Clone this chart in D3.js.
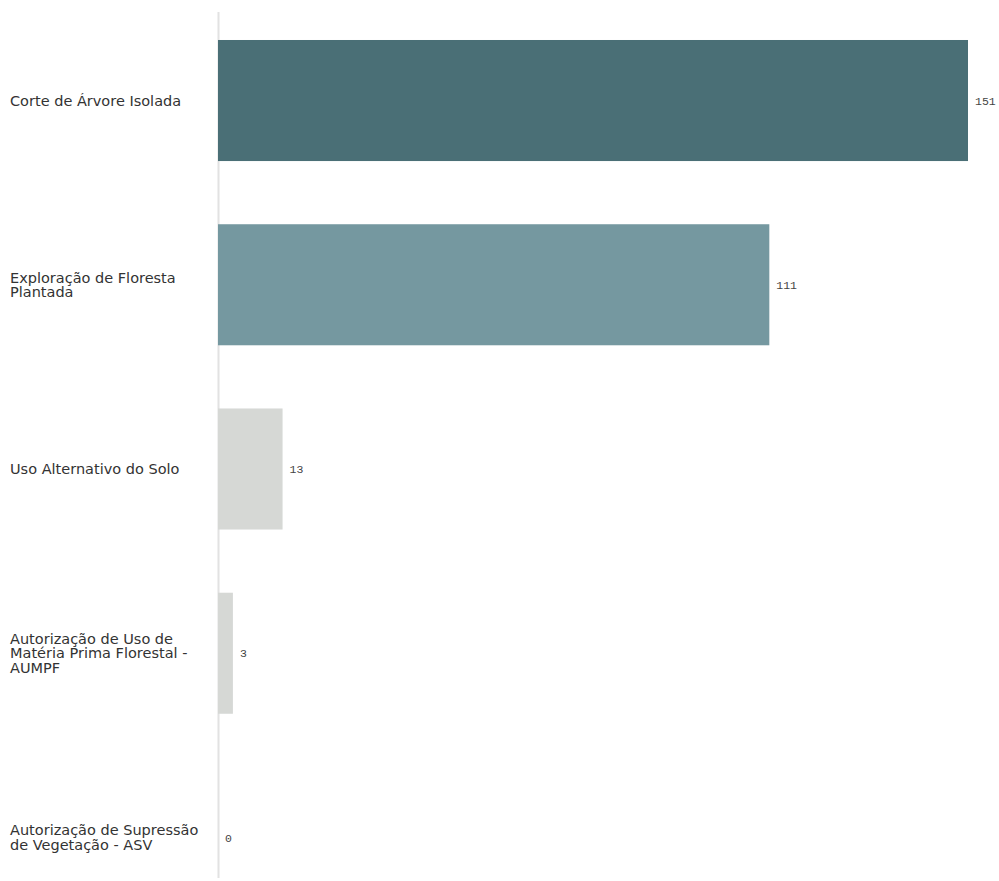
<!DOCTYPE html>
<html>
<head>
<meta charset="utf-8">
<script src="https://cdn.jsdelivr.net/npm/d3@7"></script>
<style>
  html, body { margin: 0; padding: 0; background: #ffffff; }
  svg { display: block; }
</style>
</head>
<body>
<svg id="chart" width="999" height="881"></svg>
<script>
// Categories (each entry is the list of wrapped label lines)
const categories = [
  ["Corte de Árvore Isolada"],
  ["Exploração de Floresta", "Plantada"],
  ["Uso Alternativo do Solo"],
  ["Autorização de Uso de", "Matéria Prima Florestal -", "AUMPF"],
  ["Autorização de Supressão", "de Vegetação - ASV"]
];
const values = [151, 111, 13, 3, 0];
const barColors = ["#4a6f76", "#7598a0", "#d6d8d5", "#d6d8d5", "#d6d8d5"];

const svg = d3.select("#chart");
const keys = categories.map(c => c.join(" "));

const x = d3.scaleLinear().domain([0, 151]).range([218, 968]);
const y = d3.scaleBand().domain(keys).range([8.4, 929.6])
  .paddingInner(0.343).paddingOuter(0.1715);

// Vertical baseline
svg.append("line")
  .attr("x1", 218.5).attr("x2", 218.5)
  .attr("y1", 12).attr("y2", 878)
  .attr("stroke", "#e2e2e2").attr("stroke-width", 2);

// Bars
svg.selectAll("rect.bar").data(values).enter().append("rect")
  .attr("class", "bar")
  .attr("x", x(0))
  .attr("y", (d, i) => y(keys[i]))
  .attr("width", d => x(d) - x(0))
  .attr("height", y.bandwidth())
  .attr("fill", (d, i) => barColors[i]);

// Value labels
svg.selectAll("text.val").data(values).enter().append("text")
  .attr("class", "val")
  .attr("x", d => x(d) + 7)
  .attr("y", (d, i) => y(keys[i]) + y.bandwidth() / 2)
  .attr("dy", "0.35em")
  .attr("font-family", "Liberation Mono, monospace")
  .attr("font-size", 11.5)
  .attr("fill", "#444")
  .text(d => d);

// Category labels
const lineH = 14.5;
svg.selectAll("text.cat").data(categories).enter().append("text")
  .attr("class", "cat")
  .attr("font-family", "DejaVu Sans, Verdana, sans-serif")
  .attr("font-size", 14.5)
  .attr("fill", "#333")
  .each(function(lines, i) {
    const cy = y(keys[i]) + y.bandwidth() / 2;
    const top = cy - (lines.length - 1) * lineH / 2;
    d3.select(this).selectAll("tspan").data(lines).enter().append("tspan")
      .attr("x", 10)
      .attr("y", (l, j) => top + j * lineH)
      .attr("dy", "0.35em")
      .text(l => l);
  });
</script>
</body>
</html>
